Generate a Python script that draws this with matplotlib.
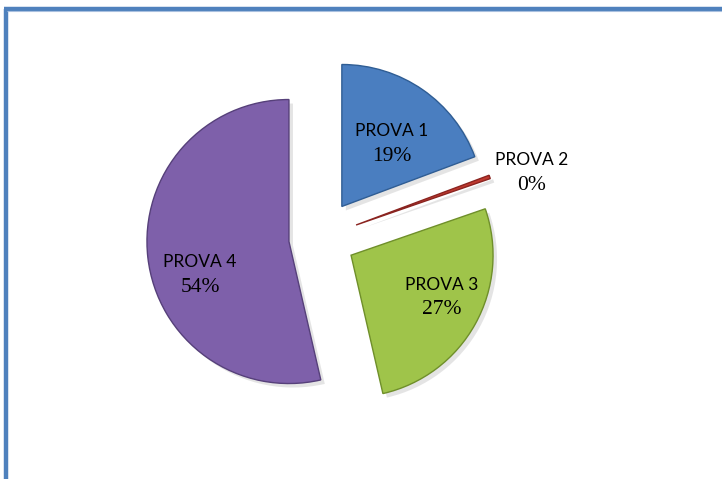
import matplotlib
matplotlib.use("Agg")
import matplotlib.pyplot as plt
from matplotlib.lines import Line2D

# --- data ---
labels = ["PROVA 1", "PROVA 2", "PROVA 3", "PROVA 4"]
shares = [19.3, 0.4, 26.7, 53.6]
pct_text = ["19%", "0%", "27%", "54%"]
colors = ["#4A7EC0", "#C0392F", "#9FC44A", "#7E60AA"]
edges = ["#2F5D94", "#8A2420", "#6F8F2A", "#56407A"]
explode = [0.27, 0.27, 0.25, 0.22]

W, H = 722, 479
fig = plt.figure(figsize=(W / 100, H / 100), dpi=100)
ax = fig.add_axes([0, 0, 1, 1])

cx, cy, r = 320, H - 238, 142
expl_px = [e * r for e in explode]  # pie explode is in data units

# soft shadow under the slices
ax.pie(shares, explode=expl_px, startangle=90, counterclock=False,
       radius=r, center=(cx + 4, cy - 4), colors=["#888888"] * 4,
       wedgeprops=dict(linewidth=0, alpha=0.22))

wedges, _ = ax.pie(shares, explode=expl_px, startangle=90, counterclock=False,
                   radius=r, center=(cx, cy), colors=colors,
                   wedgeprops=dict(linewidth=1.0))
for w, ec in zip(wedges, edges):
    w.set_edgecolor(ec)

ax.set_xlim(0, W)
ax.set_ylim(0, H)
ax.set_aspect("equal")
ax.axis("off")

# label spots (pixel coords from top-left)
label_pos = [(392, 131), (532, 160), (442, 285), (200, 262)]
for (lx, ly), name, pct in zip(label_pos, labels, pct_text):
    ax.text(lx, H - ly, name, ha="center", va="center",
            fontsize=12.5, family="Lato", color="black")
    ax.text(lx, H - ly - 25, pct, ha="center", va="center",
            fontsize=15.5, family="Liberation Serif", color="black")

# blue frame on the left and top
fig.add_artist(Line2D([5.5 / W, 5.5 / W], [0, 1 - 8.5 / H], transform=fig.transFigure,
                      color="#4F81BD", linewidth=3.2, solid_capstyle="butt"))
fig.add_artist(Line2D([4 / W, 1], [1 - 8.5 / H, 1 - 8.5 / H], transform=fig.transFigure,
                      color="#4F81BD", linewidth=3.2, solid_capstyle="butt"))
fig.add_artist(Line2D([7 / W, 1], [1 - 10.7 / H, 1 - 10.7 / H], transform=fig.transFigure,
                      color="#A9C0DF", linewidth=0.8, solid_capstyle="butt"))

fig.savefig("out.png", dpi=100)
